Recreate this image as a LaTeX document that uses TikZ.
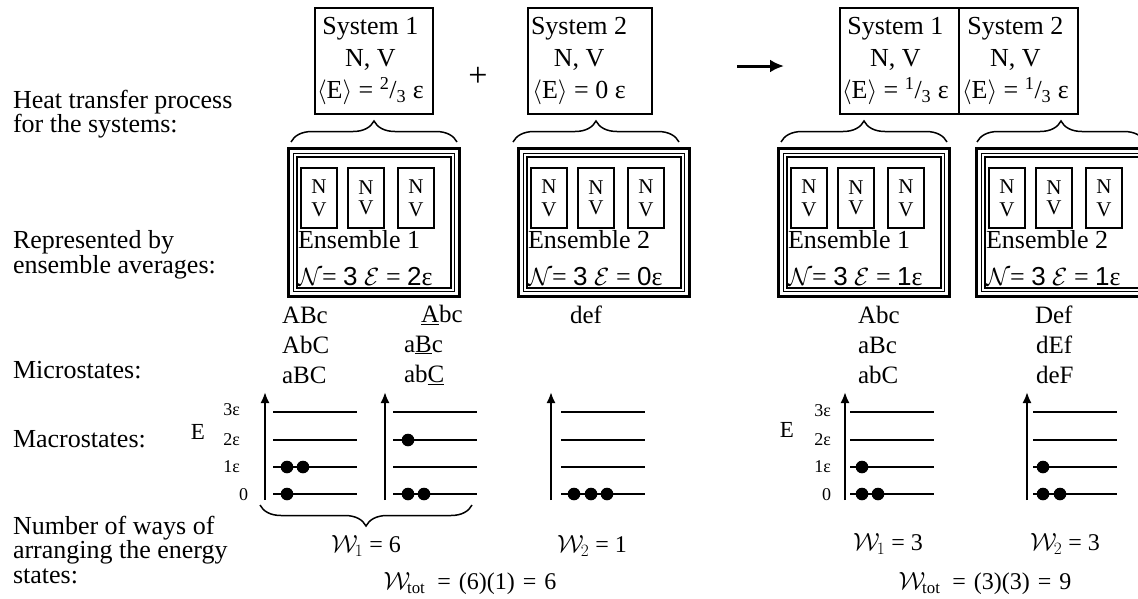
\documentclass[tikz,border=0pt]{standalone}
\usepackage{fontspec}
\setmainfont{Liberation Serif}
\newfontfamily\sansdig{Liberation Sans}
\usetikzlibrary{arrows.meta,decorations.pathreplacing}
\newcommand\fsz[2]{\fontsize{#1}{#2}\selectfont}
\begin{document}
\begin{tikzpicture}[x=1pt,y=-1pt,
  every node/.style={inner sep=0pt, outer sep=0pt},
  lbl/.style={anchor=west, align=left, font=\fsz{26}{24.5}},
  sysframe/.style={draw, line width=1.5pt, minimum width=118pt, minimum height=106pt},
  systext/.style={anchor=west, align=center, font=\fsz{26}{32}},
  ensbox/.style={draw, line width=3pt, minimum width=171pt, minimum height=148pt},
  enstext/.style={anchor=west, font=\fsz{26}{27}},
  nvbox/.style={draw, line width=1.4pt, minimum width=36pt, minimum height=60pt, align=center, font=\fsz{21}{23}},
  brc/.style={decorate, decoration={brace, amplitude=21pt}, line width=1.5pt},
  lev/.style={line width=1.6pt},
  axis/.style={line width=2pt, -{Latex[length=11pt,width=9pt]}},
  txt/.style={font=\fsz{25}{26}},
  wtxt/.style={font=\fsz{24}{26}},
  elab/.style={font=\fsz{18}{18}, anchor=east},
]
\useasboundingbox (0,0) rectangle (1138,598);

% left labels
\node[lbl] (l1) at (13,114) {Heat transfer process\\for the systems:};
\node[lbl] (l2) at (13,255) {Represented by\\ensemble averages:};
\node[lbl] (l3) at (13,370) {Microstates:};
\node[lbl] (l4) at (13,439) {Macrostates:};
\node[lbl] (l5) at (13,550) {Number of ways of\\arranging the energy\\states:};

% systems
\node[sysframe] (s1) at (374,61) {};
\node[systext] (s1t) at ([xshift=2pt]s1.west) {System 1\\N, V\\$\langle$E$\rangle$ = \textsuperscript{2}/\textsubscript{3} ε};
\node[sysframe, minimum width=124pt] (s2) at (590,61) {};
\node[systext] (s2t) at ([xshift=3pt]s2.west) {System 2\\N, V\\$\langle$E$\rangle$ = 0 ε};
\node[font=\fsz{34}{34}] (plus) at (478,77) {+};
\node[sysframe, minimum width=119pt] (s3) at (899.5,61) {};
\node[systext] (s3t) at ([xshift=2pt]s3.west) {System 1\\N, V\\$\langle$E$\rangle$ = \textsuperscript{1}/\textsubscript{3} ε};
\node[sysframe, minimum width=119pt] (s4) at (1018.5,61) {};
\node[systext] (s4t) at ([xshift=3pt]s4.west) {System 2\\N, V\\$\langle$E$\rangle$ = \textsuperscript{1}/\textsubscript{3} ε};
\coordinate (arrA) at (737,66);
\coordinate (arrB) at (784,66);
\draw[line width=3pt, -{Latex[length=14pt,width=13pt]}] (arrA) -- (arrB);

% braces
\coordinate (b1a) at (291,142); \coordinate (b1b) at (457,142);
\coordinate (b2a) at (513,142); \coordinate (b2b) at (679,142);
\coordinate (b3a) at (781,142); \coordinate (b3b) at (947,142);
\coordinate (b4a) at (977,142); \coordinate (b4b) at (1145,142);
\draw[brc] (b1a) -- (b1b);
\draw[brc] (b2a) -- (b2b);
\draw[brc] (b3a) -- (b3b);
\draw[brc] (b4a) -- (b4b);

% ensembles
\foreach \n/\cx/\num/\en in {e1/374/1/2, e2/604/2/0, e3/864/1/1, e4/1062/2/1}{
  \node[ensbox] (\n) at (\cx,222.5) {};
  \draw[line width=1.3pt] ([xshift=5pt,yshift=-5pt]\n.north west) rectangle ([xshift=-5pt,yshift=5pt]\n.south east);
  \draw[line width=1.1pt] ([xshift=8.5pt,yshift=-8.5pt]\n.north west) rectangle ([xshift=-8.5pt,yshift=8.5pt]\n.south east);
  \node[nvbox] (\n a) at ([xshift=30.5pt]\n.west |- 0,198) {N\\V};
  \node[nvbox] (\n b) at ([xshift=77.5pt]\n.west |- 0,198) {\raisebox{-3pt}{N}\\V};
  \node[nvbox] (\n c) at ([xshift=127.5pt]\n.west |- 0,198) {N\\V};
  \node[enstext] (\n t) at ([xshift=9.5pt]\n.west |- 0,240) {Ensemble \num};
  \node[enstext] (\n s) at ([xshift=9.5pt]\n.west |- 0,277) {$\mathcal{N}$= {\sansdig 3} $\mathcal{E}$ = {\sansdig \en}ε};
}

% microstates
\node[txt, anchor=west] (m1) at (282,315) {ABc};
\node[txt, anchor=west] (m2) at (282,345) {AbC};
\node[txt, anchor=west] (m3) at (282,375) {aBC};
\node[txt, anchor=west] (m4) at (421,315) {\underline{A}bc};
\node[txt, anchor=west] (m5) at (404,345) {a\underline{B}c};
\node[txt, anchor=west] (m6) at (404,375) {ab\underline{C}};
\node[txt] (m7) at (586,315) {def};
\node[txt, anchor=west] (m8) at (858,315) {Abc};
\node[txt, anchor=west] (m9) at (858,345) {aBc};
\node[txt, anchor=west] (m10) at (858,375) {abC};
\node[txt, anchor=west] (m11) at (1035,315) {Def};
\node[txt, anchor=west] (m12) at (1036,345) {dEf};
\node[txt, anchor=west] (m13) at (1036,375) {deF};

% energy axes labels
\node[font=\fsz{23}{23}] (E1) at (198,432) {E};
\node[elab] (e1l3) at (240,410) {3ε};
\node[elab] (e1l2) at (240,440) {2ε};
\node[elab] (e1l1) at (240,467) {1ε};
\node[elab] (e1l0) at (248,495) {0};
\node[font=\fsz{23}{23}] (E2) at (787,430) {E};
\node[elab] (e2l3) at (831,411) {3ε};
\node[elab] (e2l2) at (831,440) {2ε};
\node[elab] (e2l1) at (831,467) {1ε};
\node[elab] (e2l0) at (831,495) {0};

% macrostate panels
\foreach \ax/\xa/\xb in {265/273/357, 385/393/477, 551/561/645, 845/850/934, 1027/1033/1117}{
  \draw[axis] (\ax,500) -- (\ax,392);
  \foreach \yy in {412,440,467,494}{
    \draw[lev] (\xa,\yy) -- (\xb,\yy);
  }
}
\foreach \px/\py in {287/494, 287/467, 303/467,
                     408/440, 408/494, 424/494,
                     574/494, 591/494, 607/494,
                     862/467, 862/494, 878/494,
                     1043/467, 1043/494, 1060/494}{
  \fill (\px,\py) circle (6.3pt);
}

% bottom brace
\coordinate (bb1) at (472,505); \coordinate (bb2) at (260,505);
\draw[brc] (bb1) -- (bb2);

% W values
\node[wtxt] (w1) at (366,546) {$\mathcal{W}_{\mkern-1mu 1}$ = 6};
\node[wtxt] (w2) at (592,546) {$\mathcal{W}_{\mkern-1mu 2}$ = 1};
\node[wtxt] (wt) at (470,584) {$\mathcal{W}_{\mkern-1mu\mathrm{tot}}$\hspace{12pt}=\hspace{8pt}(6)(1)\hspace{8pt}=\hspace{8pt}6};
\node[wtxt] (w3) at (888,544) {$\mathcal{W}_{\mkern-1mu 1}$ = 3};
\node[wtxt] (w4) at (1065,544) {$\mathcal{W}_{\mkern-1mu 2}$ = 3};
\node[wtxt] (wt2) at (985,584) {$\mathcal{W}_{\mkern-1mu\mathrm{tot}}$\hspace{12pt}=\hspace{8pt}(3)(3)\hspace{8pt}=\hspace{8pt}9};
\end{tikzpicture}
\end{document}
